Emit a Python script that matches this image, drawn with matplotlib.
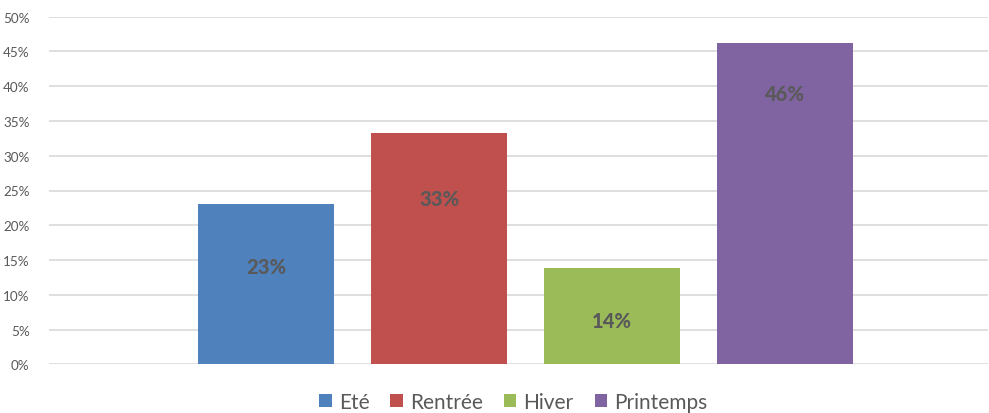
import matplotlib
matplotlib.use("Agg")
import matplotlib.pyplot as plt
from matplotlib.patches import Patch

plt.rcParams['font.family'] = ['Lato', 'DejaVu Sans']

series = ["Eté", "Rentrée", "Hiver", "Printemps"]
values = [23.0, 33.3, 13.8, 46.2]
labels = ["23%", "33%", "14%", "46%"]
label_pos = [14.1, 23.9, 6.3, 39.0]
colors = ["#4f81bd", "#c0504d", "#9bbb59", "#8064a2"]
yticks = [0, 5, 10, 15, 20, 25, 30, 35, 40, 45, 50]
ytick_labels = [f"{t}%" for t in yticks]

fig = plt.figure(figsize=(9.89, 4.14), dpi=100)
ax = fig.add_axes([49/989, 1-365.3/414, (988-49)/989, (365.3-17.7)/414])

xs = list(range(len(series)))
ax.bar(xs, values, width=0.786, color=colors, zorder=3)
for x, yp, lab in zip(xs, label_pos, labels):
    ax.text(x, yp, lab, ha='center', va='center', fontsize=14.5,
            fontweight='black', color='#595959', zorder=4)

ax.set_xlim(-1.254, 4.173)
ax.set_ylim(0, 50)
ax.set_yticks(yticks)
ax.set_yticklabels(ytick_labels)
ax.set_xticks([])
ax.tick_params(axis='y', length=0, pad=14, labelsize=9.7, labelcolor='#595959')
for s in ax.spines.values():
    s.set_visible(False)
ax.grid(axis='y', color='#d9d9d9', linewidth=1.2, zorder=0)

handles = [Patch(facecolor=c, label=s) for c, s in zip(colors, series)]
fig.legend(handles=handles, loc='center', bbox_to_anchor=(0.519, 1-403/414),
           ncol=4, frameon=False, fontsize=15, labelcolor='#595959',
           handlelength=0.6, handleheight=0.6, handletextpad=0.35,
           columnspacing=1.0)

fig.savefig("out.png", dpi=100)
